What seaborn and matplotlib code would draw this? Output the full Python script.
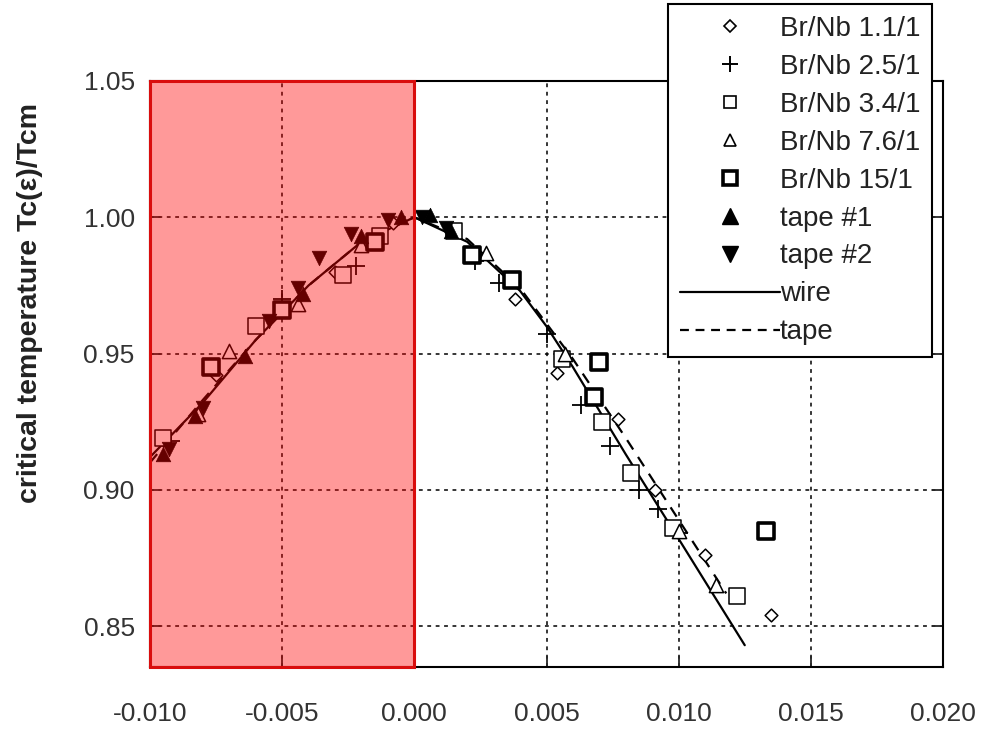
import numpy as np
import pandas as pd
import matplotlib
matplotlib.use("Agg")
import matplotlib.pyplot as plt
import seaborn as sns
from matplotlib.patches import Rectangle
from matplotlib.lines import Line2D

# strain vs normalised Tc
br11_x = [-0.0075, -0.0030, -0.0008, 0.0038, 0.0054, 0.0077, 0.0091, 0.0110, 0.0135]
br11_y = [0.942, 0.980, 0.998, 0.970, 0.943, 0.926, 0.900, 0.876, 0.854]

br25_x = [-0.0092, -0.0050, -0.0022, 0.0023, 0.0032, 0.0050, 0.0063, 0.0074, 0.0085, 0.0092, 0.0100]
br25_y = [0.918, 0.970, 0.982, 0.984, 0.976, 0.957, 0.931, 0.916, 0.900, 0.893, 0.884]

br34_x = [-0.0095, -0.0060, -0.0027, -0.0013, 0.0015, 0.0056, 0.0071, 0.0082, 0.0098, 0.0122]
br34_y = [0.919, 0.960, 0.979, 0.993, 0.995, 0.948, 0.925, 0.906, 0.886, 0.861]

br76_x = [-0.0082, -0.0070, -0.0044, -0.0020, 0.0027, 0.0057, 0.0100, 0.0114]
br76_y = [0.928, 0.951, 0.968, 0.990, 0.987, 0.950, 0.885, 0.865]

br15_x = [-0.0077, -0.0050, -0.0015, 0.0022, 0.0037, 0.0068, 0.0070, 0.0133]
br15_y = [0.945, 0.966, 0.991, 0.986, 0.977, 0.934, 0.947, 0.885]

tape1_x = [-0.0095, -0.0083, -0.0064, -0.0042, -0.0020, -0.0005, 0.0006, 0.0014]
tape1_y = [0.913, 0.927, 0.949, 0.972, 0.993, 1.000, 1.001, 0.995]

tape2_x = [-0.0093, -0.0080, -0.0055, -0.0044, -0.0036, -0.0024, -0.0010, 0.0003, 0.0012]
tape2_y = [0.915, 0.930, 0.962, 0.974, 0.985, 0.994, 0.999, 1.000, 0.996]

wire_x = [-0.010, -0.008, -0.006, -0.004, -0.002, 0.000, 0.002, 0.004, 0.005, 0.006, 0.008, 0.010, 0.0125]
wire_y = [0.912, 0.932, 0.955, 0.975, 0.991, 1.000, 0.991, 0.973, 0.960, 0.945, 0.913, 0.882, 0.843]

tapefit_x = [-0.010, -0.008, -0.006, -0.004, -0.002, 0.000, 0.002, 0.004, 0.006, 0.008, 0.010, 0.0118]
tapefit_y = [0.910, 0.933, 0.955, 0.975, 0.991, 1.000, 0.992, 0.974, 0.948, 0.919, 0.889, 0.862]

sns.set_style("white")
plt.rcParams['font.family'] = ['Liberation Sans', 'DejaVu Sans']

fig = plt.figure(figsize=(9.83, 7.35), dpi=100)
ax = fig.add_axes([150 / 983, 1 - 667 / 735, 793 / 983, (667 - 81) / 735])

# fitted curves
sns.lineplot(x=wire_x, y=wire_y, ax=ax, color="black", linewidth=1.6, zorder=3)
sns.lineplot(x=tapefit_x, y=tapefit_y, ax=ax, color="black", linewidth=1.6,
             linestyle=(0, (5, 4)), zorder=3)

series = [
    (br11_x, br11_y, "D", 42, 1.1, False),
    (br25_x, br25_y, "+", 170, 1.3, True),
    (br34_x, br34_y, "s", 130, 1.1, False),
    (br76_x, br76_y, "^", 105, 1.1, False),
    (br15_x, br15_y, "s", 120, 2.6, False),
    (tape1_x, tape1_y, "^", 110, 0.5, True),
    (tape2_x, tape2_y, "v", 110, 0.5, True),
]
for xs, ys, mk, sz, lw, filled in series:
    if mk == "+":
        sns.scatterplot(x=xs, y=ys, ax=ax, marker=mk, s=sz, color="black",
                        linewidth=lw, zorder=4)
    elif filled:
        sns.scatterplot(x=xs, y=ys, ax=ax, marker=mk, s=sz, color="black",
                        edgecolor="black", linewidth=lw, zorder=4)
    else:
        sns.scatterplot(x=xs, y=ys, ax=ax, marker=mk, s=sz, facecolor="white",
                        edgecolor="black", linewidth=lw, zorder=4)

# shaded compressive region drawn over the data
ax.add_patch(Rectangle((-0.010, 0.835), 0.010, 0.215, facecolor=(1, 0, 0, 0.4),
                       edgecolor=(0.85, 0.05, 0.05, 1), linewidth=2.2,
                       zorder=6, clip_on=False))

ax.set_xlim(-0.010, 0.020)
ax.set_ylim(0.835, 1.05)
ax.set_xticks([-0.010, -0.005, 0.000, 0.005, 0.010, 0.015, 0.020])
ax.set_xticklabels(["-0.010", "-0.005", "0.000", "0.005", "0.010", "0.015", "0.020"])
ax.set_yticks([0.85, 0.90, 0.95, 1.00, 1.05])
ax.set_yticklabels(["0.85", "0.90", "0.95", "1.00", "1.05"])
ax.tick_params(axis="both", direction="in", length=8, width=1.3, labelsize=19,
               labelcolor="#333333", right=True, bottom=True, left=True)
ax.tick_params(axis="y", pad=11)
ax.tick_params(axis="x", pad=25)
ax.grid(True, color="black", linestyle=(0, (2.5, 3)), linewidth=1.1)
for sp in ax.spines.values():
    sp.set_color("black")
    sp.set_linewidth(1.5)

ax.set_ylabel("critical temperature Tc(ε)/Tcm", fontsize=20.5, fontweight="bold",
              color="#222222")
ax.yaxis.set_label_coords((43 - 150) / 793, (667 - 303) / 586)

handles = [
    Line2D([], [], linestyle="", marker="D", markersize=6.5, markerfacecolor="white", markeredgecolor="black", markeredgewidth=1.2),
    Line2D([], [], linestyle="", marker="+", markersize=12, color="black", markeredgewidth=1.4),
    Line2D([], [], linestyle="", marker="s", markersize=9, markerfacecolor="white", markeredgecolor="black", markeredgewidth=1.2),
    Line2D([], [], linestyle="", marker="^", markersize=8, markerfacecolor="white", markeredgecolor="black", markeredgewidth=1.2),
    Line2D([], [], linestyle="", marker="s", markersize=10, markerfacecolor="white", markeredgecolor="black", markeredgewidth=2.6),
    Line2D([], [], linestyle="", marker="^", markersize=11, color="black"),
    Line2D([], [], linestyle="", marker="v", markersize=11, color="black"),
    Line2D([], [], color="black", linewidth=1.6),
    Line2D([], [], color="black", linewidth=1.6, linestyle=(0, (4, 3))),
]
labels = ["Br/Nb 1.1/1", "Br/Nb 2.5/1", "Br/Nb 3.4/1", "Br/Nb 7.6/1", "Br/Nb 15/1",
          "tape #1", "tape #2", "wire", "tape"]
leg = fig.legend(handles, labels, loc="lower left",
                 bbox_to_anchor=(668 / 983, 1 - 357 / 735), fontsize=20,
                 frameon=True, fancybox=False, framealpha=1, edgecolor="black",
                 handlelength=3.6, handletextpad=0.0, labelspacing=0.43,
                 borderpad=0.42, borderaxespad=0)
leg.get_frame().set_linewidth(1.5)
for t in leg.get_texts():
    t.set_color("#222222")

fig.savefig("out.png", dpi=100)
